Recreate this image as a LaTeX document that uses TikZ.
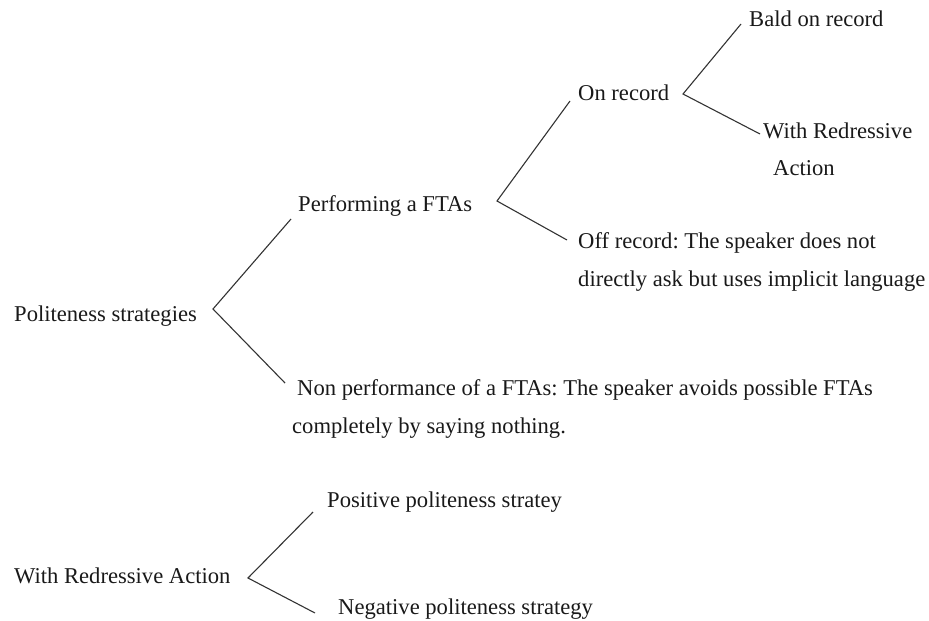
\documentclass[tikz,border=0pt]{standalone}
\usepackage{fontspec}
\setmainfont{Liberation Serif}
\frenchspacing
\begin{document}
\begin{tikzpicture}[x=1pt,y=-1pt,
  lbl/.style={anchor=base west,inner sep=0pt,font=\fontsize{22.6}{38}\selectfont,text=black!90},
  conn/.style={draw=black!80,line width=1.1pt}]
\useasboundingbox (0,0) rectangle (929,621);
% texts
\node[lbl] (bald) at (749,27) {Bald on record};
\node[lbl] (onrec) at (578,100) {On record};
\node[lbl] (wra1) at (763,138) {With Redressive};
\node[lbl] (wra2) at (773,175) {Action};
\node[lbl] (perf) at (298,211) {Performing a FTAs};
\node[lbl] (off1) at (578,248) {Off record: The speaker does not};
\node[lbl] (off2) at (578,286) {directly ask but uses implicit language};
\node[lbl] (pol) at (14,321) {Politeness strategies};
\node[lbl] (non1) at (297,395) {Non performance of a FTAs: The speaker avoids possible FTAs};
\node[lbl] (non2) at (292,433) {completely by saying nothing.};
\node[lbl] (pos) at (327,507) {Positive politeness stratey};
\node[lbl] (wra) at (14,583) {With Redressive Action};
\node[lbl] (neg) at (338,614) {Negative politeness strategy};
% connector points
\coordinate (vpol) at (213,309);
\coordinate (epe) at (291,219);
\coordinate (enp) at (285,383);
\coordinate (vperf) at (497,201);
\coordinate (eon) at (570,101);
\coordinate (eoff) at (567,240);
\coordinate (von) at (683,94);
\coordinate (ebald) at (741,24);
\coordinate (ewra) at (760,134);
\coordinate (vwra) at (248,578);
\coordinate (epos) at (313,512);
\coordinate (eneg) at (315,613);
% connectors
\draw[conn] (epe) -- (vpol) -- (enp);
\draw[conn] (eon) -- (vperf) -- (eoff);
\draw[conn] (ebald) -- (von) -- (ewra);
\draw[conn] (epos) -- (vwra) -- (eneg);
\end{tikzpicture}
\end{document}
